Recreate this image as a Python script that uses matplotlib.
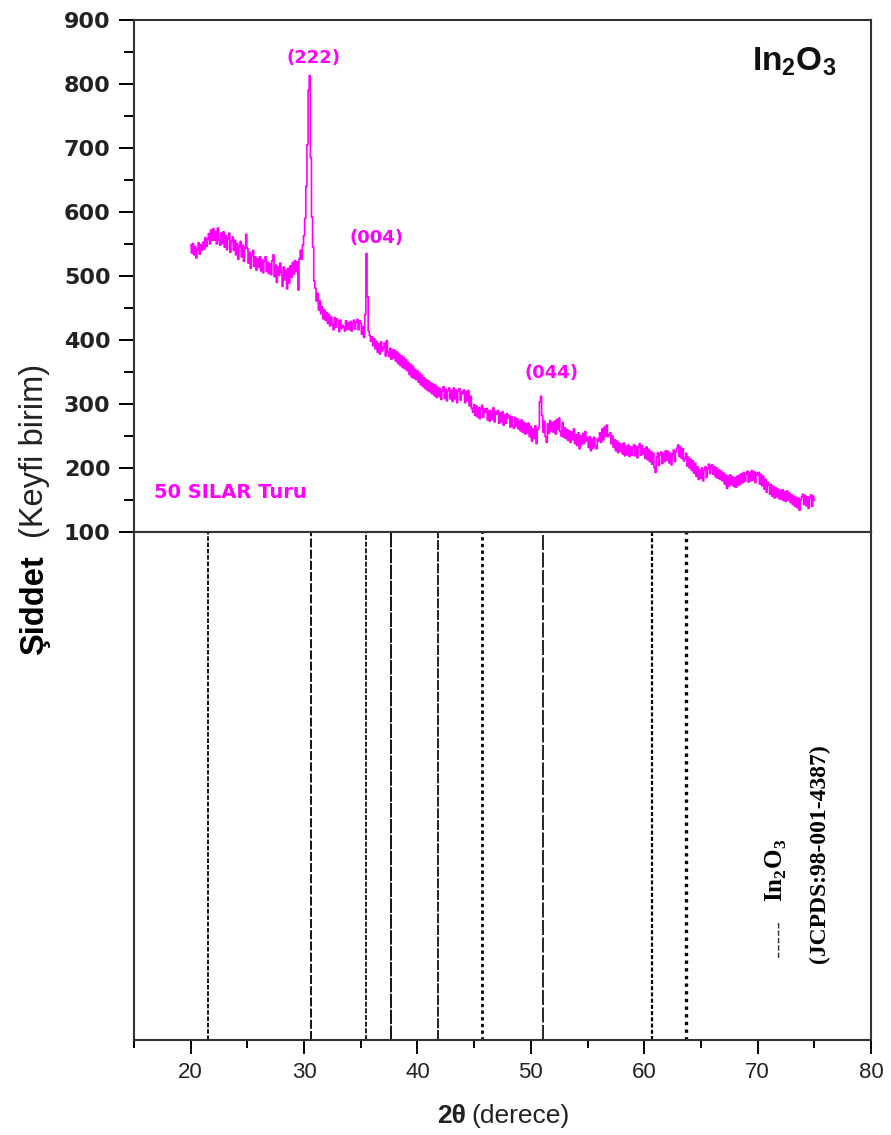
import numpy as np
import matplotlib
matplotlib.use('Agg')
import matplotlib.pyplot as plt
from matplotlib.ticker import MultipleLocator

# olcum 20-75 derece, 0.1 derece adim
aci = np.round(np.arange(20.0, 75.05, 0.1), 1)
siddet = [
    548, 536, 551, 533, 546, 528, 541, 552, 534, 549,  # 20
    540, 553, 542, 560, 546, 557, 566, 550, 572, 556,  # 21
    574, 556, 569, 550, 575, 556, 548, 567, 551, 569,  # 22
    545, 563, 541, 558, 567, 537, 554, 561, 540, 556,  # 23
    533, 551, 526, 546, 554, 530, 548, 523, 544, 565,  # 24
    543, 520, 537, 512, 532, 540, 515, 530, 509, 527,  # 25
    514, 530, 508, 525, 505, 523, 530, 507, 521, 504,  # 26
    519, 502, 524, 533, 499, 517, 490, 514, 501, 520,  # 27
    506, 484, 514, 494, 509, 480, 512, 489, 516, 498,  # 28
    521, 503, 524, 507, 522, 478, 527, 540, 526, 548,  # 29
    563, 590, 640, 705, 790, 813, 685, 592, 545, 492,  # 30
    481, 461, 473, 447, 461, 441, 452, 433, 447, 431,  # 31
    443, 426, 440, 422, 436, 424, 416, 435, 420, 433,  # 32
    429, 413, 431, 418, 423, 420, 414, 430, 417, 427,  # 33
    416, 429, 414, 427, 431, 417, 428, 432, 416, 430,  # 34
    426, 409, 421, 404, 440, 535, 468, 414, 407, 398,  # 35
    405, 391, 402, 386, 398, 381, 394, 378, 397, 383,  # 36
    388, 395, 375, 399, 381, 374, 387, 370, 385, 372,  # 37
    384, 367, 381, 363, 378, 360, 375, 357, 373, 355,  # 38
    369, 352, 365, 346, 362, 342, 359, 340, 354, 338,  # 39
    352, 334, 348, 330, 345, 327, 341, 324, 338, 321,  # 40
    336, 319, 333, 316, 331, 313, 329, 310, 326, 312,  # 41
    324, 307, 321, 327, 309, 323, 305, 321, 325, 308,  # 42
    321, 304, 325, 308, 322, 302, 320, 324, 306, 319,  # 43
    316, 322, 302, 319, 305, 321, 297, 312, 293, 287,  # 44
    299, 282, 297, 280, 294, 277, 293, 298, 279, 292,  # 45
    287, 293, 275, 290, 273, 289, 276, 294, 272, 288,  # 46
    284, 290, 270, 286, 272, 288, 267, 283, 270, 285,  # 47
    278, 282, 264, 280, 266, 262, 279, 265, 277, 261,  # 48
    273, 258, 275, 256, 271, 253, 269, 255, 270, 249,  # 49
    265, 242, 261, 246, 266, 238, 260, 263, 303, 312,  # 50
    282, 256, 273, 249, 240, 269, 254, 274, 258, 271,  # 51
    256, 273, 253, 276, 260, 278, 257, 250, 271, 248,  # 52
    263, 246, 260, 243, 258, 240, 256, 244, 261, 238,  # 53
    252, 235, 255, 230, 250, 237, 254, 239, 257, 242,  # 54
    247, 232, 249, 227, 245, 231, 248, 234, 230, 246,  # 55
    242, 255, 240, 261, 244, 264, 250, 267, 249, 252,  # 56
    255, 238, 250, 232, 244, 227, 242, 224, 239, 226,  # 57
    237, 222, 239, 219, 234, 221, 236, 218, 233, 220,  # 58
    232, 236, 219, 234, 216, 233, 238, 220, 235, 222,  # 59
    230, 215, 233, 213, 229, 210, 226, 206, 223, 201,  # 60
    193, 217, 224, 204, 221, 225, 207, 223, 210, 227,  # 61
    212, 226, 208, 223, 205, 222, 228, 210, 225, 231,  # 62
    236, 218, 233, 215, 230, 211, 215, 223, 203, 217,  # 63
    200, 214, 196, 211, 192, 207, 187, 202, 182, 197,  # 64
    184, 200, 180, 197, 202, 185, 199, 206, 191, 203,  # 65
    205, 190, 202, 186, 200, 184, 197, 182, 195, 180,  # 66
    192, 175, 189, 168, 187, 172, 189, 174, 186, 171,  # 67
    185, 170, 187, 173, 189, 175, 191, 177, 193, 179,  # 68
    191, 195, 178, 193, 180, 196, 181, 194, 177, 192,  # 69
    189, 193, 175, 190, 172, 187, 167, 182, 162, 178,  # 70
    173, 159, 174, 156, 171, 153, 169, 155, 167, 152,  # 71
    165, 151, 166, 149, 163, 148, 164, 150, 161, 146,  # 72
    158, 143, 156, 140, 154, 138, 153, 134, 150, 155,  # 73
    159, 143, 157, 141, 155, 137, 153, 158, 140, 156,  # 74
    150,                                               # 75
]

# pik etiketleri (konum ve metin)
pik_etiket = ['(222)', '(004)', '(044)']
pik_x = [30.8, 36.4, 51.8]
pik_y = [840, 560, 348]

# JCPDS 98-001-4387 referans cizgileri
ref_aci = [21.50, 30.58, 35.46, 37.69, 41.84, 45.69, 51.03, 60.67, 63.68]
ref_stil = [(0, (2.5, 1)), (0, (5, 1.2)), (0, (3, 1)), (0, (8, 0.8)), (0, (6, 1)),
            (0, (1.2, 1.2)), (0, (9, 1.5)), (0, (1.8, 1)), (0, (1, 1.3))]
ref_kalinlik = [1.3, 1.3, 1.2, 1.3, 1.2, 2.0, 1.2, 1.6, 2.4]

pembe = '#ff00ff'
plt.rcParams['font.family'] = ['Liberation Sans', 'DejaVu Sans']

fig = plt.figure(figsize=(8.91, 11.35), dpi=100)
ax1 = fig.add_axes([0.1504, 0.5313, 0.8272, 0.4511])
ax2 = fig.add_axes([0.1504, 0.0837, 0.8272, 0.4476])

# ust panel: XRD deseni
ax1.plot(aci, siddet, color=pembe, lw=1.2, drawstyle='steps-mid')
ax1.set_xlim(15, 80)
ax1.set_ylim(100, 900)
ax1.set_xticks([])
ax1.yaxis.set_major_locator(MultipleLocator(100))
ax1.yaxis.set_minor_locator(MultipleLocator(50))
ax1.tick_params(axis='y', which='major', direction='out', length=11, width=1.4, pad=6)
ax1.tick_params(axis='y', which='minor', direction='out', length=7, width=1.4)
for lbl in ax1.get_yticklabels():
    lbl.set_fontfamily('DejaVu Sans')
    lbl.set_fontweight('bold')
    lbl.set_fontsize(16)
    lbl.set_color('#222222')

for et, x, y in zip(pik_etiket, pik_x, pik_y):
    ax1.text(x, y, et, color=pembe, fontsize=13, fontweight='bold',
             fontfamily='DejaVu Sans', ha='center', va='center')
ax1.text(16.8, 161, '50 SILAR Turu', color=pembe, fontsize=14, fontweight='bold',
         fontfamily='DejaVu Sans', ha='left', va='center')
ax1.text(69.5, 822, r'In$_\mathregular{2}$O$_\mathregular{3}$', fontsize=24,
         fontweight='bold', color='#111111', ha='left', va='baseline')

# alt panel: referans cizgiler
for a, st, lw in zip(ref_aci, ref_stil, ref_kalinlik):
    ax2.axvline(a, ymin=0, ymax=1, color='black', linestyle=st, lw=lw)
ax2.set_xlim(15, 80)
ax2.set_ylim(0, 1)
ax2.set_yticks([])
ax2.xaxis.set_major_locator(MultipleLocator(10))
ax2.xaxis.set_minor_locator(MultipleLocator(5))
ax2.set_xticks(range(20, 81, 10))
ax2.tick_params(axis='x', which='major', direction='out', length=10, width=1.4,
                labelsize=16, pad=6, labelcolor='#222222')
ax2.tick_params(axis='x', which='minor', direction='out', length=6, width=1.4)

for ax in (ax1, ax2):
    for sp in ax.spines.values():
        sp.set_linewidth(1.5)
        sp.set_color('#333333')

ax2.text(0.8752, 0.163, '-----', transform=ax2.transAxes, fontsize=16,
         rotation=90, rotation_mode='anchor',
         ha='left', va='center', color='#333333')
ax2.text(0.8806, 0.2717, r'In$_\mathregular{2}$O$_\mathregular{3}$', transform=ax2.transAxes,
         fontsize=18, fontfamily='Liberation Serif', fontweight='bold', rotation=90,
         rotation_mode='anchor', ha='left', va='baseline')
ax2.text(0.9369, 0.1516, '(JCPDS:98-001-4387)', transform=ax2.transAxes,
         fontsize=17, fontfamily='Liberation Serif', fontweight='bold', rotation=90,
         rotation_mode='anchor', ha='left', va='baseline')

# eksen basliklari
fig.text(43 / 891, 1 - 655 / 1135, 'Şiddet', fontsize=23.5, fontweight='bold',
         rotation=90, rotation_mode='anchor', ha='left', va='baseline')
fig.text(43 / 891, 1 - 538 / 1135, '(Keyfi birim)', fontsize=23.5,
         rotation=90, rotation_mode='anchor', ha='left', va='baseline', color='#222222')
fig.text(466 / 891, 1 - 1123 / 1135, '2θ', fontsize=19, fontweight='bold',
         ha='right', va='baseline', color='#222222')
fig.text(471 / 891, 1 - 1123 / 1135, '(derece)', fontsize=19,
         ha='left', va='baseline', color='#222222')

fig.savefig('out.png', dpi=100)
